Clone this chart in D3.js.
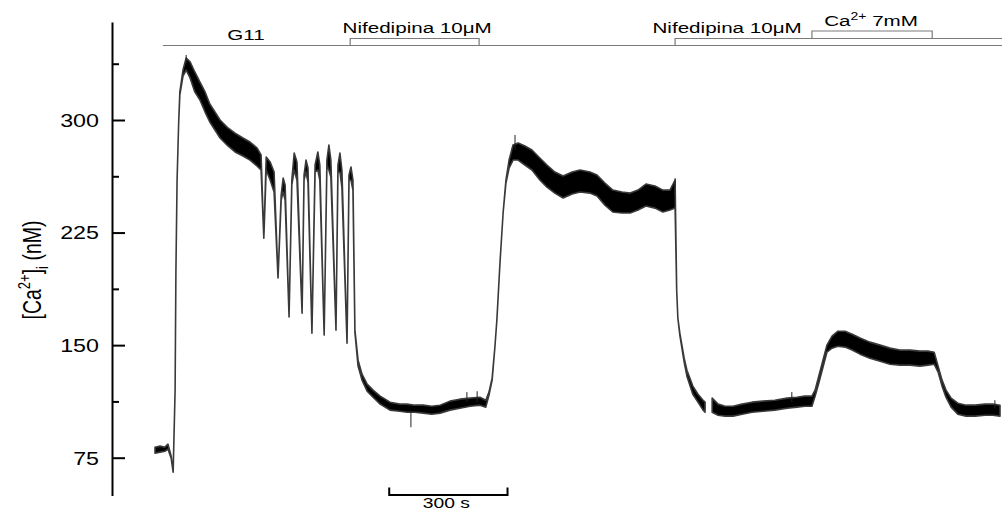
<!DOCTYPE html>
<html><head><meta charset="utf-8">
<script src="https://cdn.jsdelivr.net/npm/d3@7/dist/d3.min.js"></script>
<style>html,body{margin:0;padding:0;background:#fff;}svg{display:block;}</style>
</head><body>
<svg id="chart" width="1002" height="511"></svg>
<script>
// ---- data (time in s, [Ca2+]i in nM) ----
const traceT  = [0,13,25,33,41,46,51,53,56,60,63,71,79,89,101,114,127,139,152,165,185,203,223,241,259,269,276,282,292,302,312,320,325,330,340,347,353,360,373,378,383,388,398,406,413,418,429,436,441,446,459,464,469,474,487,492,497,502,507,515,525,538,553,571,596,621,639,659,680,702,723,748,773,799,824,839,847,855,862,867,875,883,890,898,908,921,938,956,976,994,1014,1035,1058,1078,1103,1121,1141,1161,1184,1205,1225,1245,1268,1288,1306,1319,1323,1326,1331,1342,1349,1364,1377,1390,1395,1404,1413,1428,1446,1466,1489,1514,1542,1572,1603,1628,1648,1666,1674,1684,1694,1704,1717,1732,1750,1768,1788,1813,1839,1864,1889,1915,1940,1960,1976,1986,1996,2006,2019,2036,2057,2080,2105,2125,2143];
const traceHi = [82,82.7,82,84,76,65.3,120,198,260,298,318.7,333.3,341.3,338.7,332,325.3,318.7,310.7,305.3,300,294.7,291.3,288,285.3,281.3,276.7,221.3,275.3,272,265.3,194.7,250,261.3,256.7,168.7,260,278,272,171.3,263.3,273.3,268,158,270,278.7,270,156.7,273.3,283.3,273.3,160,270,278,266.7,151.3,263.3,268.7,260,160,140,130.7,124,120,116,112,110.7,110.7,110,110,109.3,110,112.7,114,114.7,115.3,113.3,118.7,128,148.7,166.7,205.3,238.7,260,273.3,283.3,284.7,282.7,280,274.7,270,265.3,262.7,265.3,266.7,265.3,263.3,258,253.3,252,251.3,253.3,257.3,256,253.3,253.3,260,186.7,168,158,141.3,133.3,122.7,117.3,113.3,112,null,114.7,110.7,109.3,109.3,110.7,112,112.7,113.3,114.7,115.3,116,116,120,130,140,150,156,159.3,159.3,157.3,154.7,152,150,148,146.7,146.7,146,146,145.3,136,126.7,120,114.7,111.3,110,110,110.7,110.7,110];
const traceLo = [78,78.7,79.3,80.7,74.7,65.3,120,198,260,298,316.7,329.3,333.3,328,318.7,313.3,305.3,298.7,293.3,288,282.7,278.7,276,273.3,269.3,266.7,221.3,266.7,260,252,194.7,246.7,252,246.7,168.7,256.7,266.7,260,171.3,260,265.3,258.7,158,265.3,266.7,260,156.7,270,266.7,262,160,265.3,265.3,255.3,151.3,260,260,253.3,158.7,136,126.7,119.3,115.3,110.7,106.7,106,105.3,105.3,104.7,104,104.7,106.7,108,109.3,110,108.7,116.7,126.7,148.7,166.7,205.3,238.7,258,268,273.3,273.3,270,266.7,260,255.3,251.3,248,250.7,252,251.3,249.3,243.3,238.7,238,238,240,242.7,241.3,238.7,240,241.3,186.7,168,156.7,138.7,129.3,117.3,112,106.7,105.3,null,105.3,103.3,102.7,102.7,104,105.3,106,106.7,108,108.7,109.3,109.3,116,125.3,135.3,145.3,148,149.3,148.7,146.7,144,141.3,139.3,137.3,136.7,136.7,136,136.7,137.3,132,122.7,115.3,108.7,104,102.7,102.7,103.3,103.3,102.7];
// isolated noise spikes: time, from value, to value
const spikeT    = [79,649,791,817,913,1319,1615,2130];
const spikeFrom = [338,105,112,112,280,256,112,108];
const spikeTo   = [343.3,95.3,118.7,119.3,290,261.3,118.7,113.3];

const yTicks = [75,150,225,300];
const yMinorTicks = [112.5,187.5,262.5,337.5];
const yExtent = [49.5,365];

// protocol bars (s)
const g11Start = 20;
const nif1 = [495, 822];
const nif2Start = 1319;
const caBar = [1666, 1971];
const scaleBar = [594, 894];   // 300 s

// ---- scales ----
const SX = 1.33; // horizontal stretch of the original figure's lettering
const x = d3.scaleLinear().domain([0, 2145]).range([155, 1000.8]);
const y = d3.scaleLinear().domain([75, 300]).range([457.7, 120]);
const svg = d3.select("#chart");
const font = "'Liberation Sans', Arial, sans-serif";

// ---- y axis ----
const axisX = 112.5;
const gAxis = svg.append("g").attr("transform", `translate(${axisX},0)`);
gAxis.append("line").attr("x1",0).attr("x2",0).attr("y1",y(yExtent[1])).attr("y2",y(yExtent[0]))
  .attr("stroke","#000").attr("stroke-width",2);
const major = gAxis.append("g").call(d3.axisLeft(y).tickValues(yTicks).tickSize(-12.5).tickPadding(13).tickFormat(d3.format("d")));
major.select(".domain").remove();
major.selectAll(".tick line").attr("stroke","#000").attr("stroke-width",2);
major.selectAll(".tick text").attr("x",null).attr("dy","0.36em")
  .attr("transform",`translate(-13.5,0) scale(${SX},1)`)
  .attr("font-family",font).attr("font-size",17.5).attr("fill","#000");
const minor = gAxis.append("g").call(d3.axisLeft(y).tickValues(yMinorTicks).tickSize(-6.5).tickFormat(""));
minor.select(".domain").remove();
minor.selectAll(".tick line").attr("stroke","#000").attr("stroke-width",2);

// y label
const yl = svg.append("text").attr("transform",`translate(41,270) scale(${SX},1) rotate(-90)`)
  .attr("text-anchor","middle").attr("font-family",font).attr("font-size",19.5).attr("fill","#000");
yl.append("tspan").text("[Ca");
yl.append("tspan").text("2+").attr("font-size",13).attr("dy",-8);
yl.append("tspan").text("]").attr("dy",8);
yl.append("tspan").text("i").attr("font-size",13).attr("dy",5);
yl.append("tspan").text(" (nM)").attr("dy",-5);

// ---- trace ----
const pts = traceT.map((t,i)=>({t, hi:traceHi[i], lo:traceLo[i]}));
const area = d3.area().defined(d=>d.hi!=null).x(d=>x(d.t)).y0(d=>y(d.lo)).y1(d=>y(d.hi)).curve(d3.curveLinear);
svg.append("path").datum(pts).attr("d",area).attr("fill","#000")
  .attr("stroke","#3a3a3a").attr("stroke-width",1.6).attr("stroke-linejoin","round");
svg.append("g").selectAll("line").data(spikeT).join("line")
  .attr("x1",d=>x(d)).attr("x2",d=>x(d))
  .attr("y1",(d,i)=>y(spikeFrom[i])).attr("y2",(d,i)=>y(spikeTo[i]))
  .attr("stroke","#222").attr("stroke-width",1);

// ---- protocol bars ----
const gray = "#7a7a7a";
const yBase = 45.5, yNif = 38.5, yCa = 31;
const gp = svg.append("g").attr("fill","none").attr("stroke",gray).attr("stroke-width",1.2);
gp.append("line").attr("x1",x(g11Start)).attr("x2",1002).attr("y1",yBase).attr("y2",yBase);
gp.append("path").attr("d",`M${x(nif1[0])},${yBase}V${yNif}H${x(nif1[1])}V${yBase}`);
gp.append("path").attr("d",`M${x(nif2Start)},${yBase}V${yNif}H1002`);
gp.append("path").attr("d",`M${x(caBar[0])},${yNif}V${yCa}H${x(caBar[1])}V${yNif}`);

function label(cx, by, parts, fs){
  const t = svg.append("text").attr("transform",`translate(${cx},${by}) scale(${SX},1)`)
    .attr("text-anchor","middle").attr("font-family",font).attr("font-size",fs).attr("fill","#000");
  parts.forEach(p=>{ const s=t.append("tspan").text(p.s); if(p.fs) s.attr("font-size",p.fs); if(p.dy) s.attr("dy",p.dy); });
  return t;
}
label(246, 39.5, [{s:"G11"}], 15.5);
label((x(nif1[0])+x(nif1[1]))/2+2.5, 33, [{s:"Nifedipina 10\u03BCM"}], 15.5);
label(x(nif2Start)+52, 33, [{s:"Nifedipina 10\u03BCM"}], 15.5);
label((x(caBar[0])+x(caBar[1]))/2-1, 25.5, [{s:"Ca"},{s:"2+",fs:10.5,dy:-6},{s:" 7mM",dy:6}], 15.5);

// ---- scale bar ----
const sb = svg.append("g").attr("stroke","#000").attr("stroke-width",2).attr("fill","none");
sb.append("path").attr("d",`M${x(scaleBar[0])},487.5V495H${x(scaleBar[1])}V487.5`);
svg.append("text").attr("transform",`translate(${(x(scaleBar[0])+x(scaleBar[1]))/2-2},507.5) scale(${SX},1)`)
  .attr("text-anchor","middle").attr("font-family",font).attr("font-size",14.5).text("300 s");
</script>
</body></html>
